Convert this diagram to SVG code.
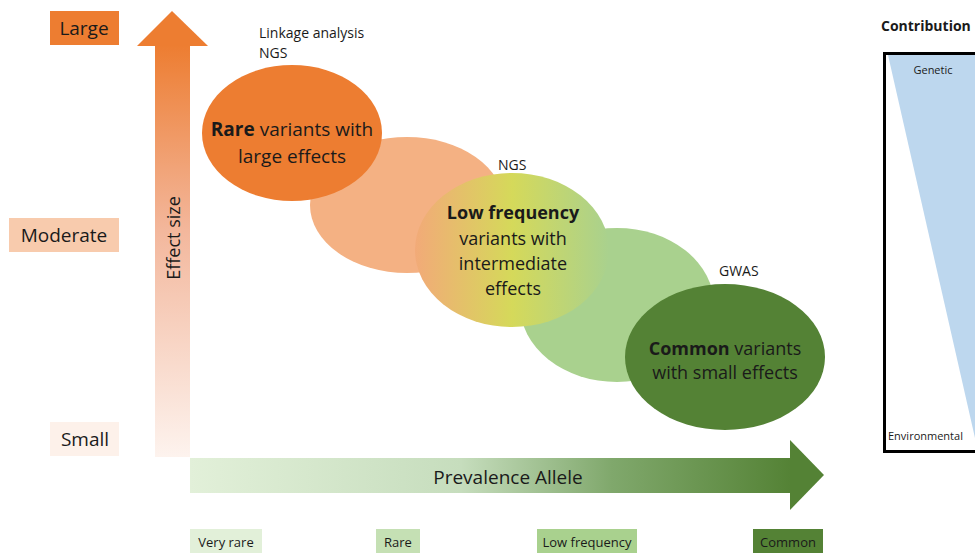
<svg xmlns="http://www.w3.org/2000/svg" width="975" height="553" viewBox="0 0 975 553">
<defs>
<style>
text{font-family:"Open Sans","Liberation Sans",sans-serif;fill:#1a1a1a}
.lbl{font-size:18px;text-anchor:middle}
.sm{font-size:13px;text-anchor:middle}
.tech{font-size:14px}
.b{font-weight:bold}
</style>
<linearGradient id="vgrad" x1="0" y1="0" x2="0" y2="1">
<stop offset="0" stop-color="#ED7D31"/>
<stop offset="0.45" stop-color="#F3B79C"/>
<stop offset="1" stop-color="#FDF3EE"/>
</linearGradient>
<linearGradient id="hgrad" x1="0" y1="0" x2="1" y2="0">
<stop offset="0" stop-color="#E2F0D9"/>
<stop offset="0.45" stop-color="#C6DDBD"/>
<stop offset="0.7" stop-color="#80A86C"/>
<stop offset="1" stop-color="#548235"/>
</linearGradient>
<linearGradient id="lfgrad" x1="0" y1="0" x2="1" y2="0">
<stop offset="0" stop-color="#F2AA78"/>
<stop offset="0.5" stop-color="#D5D95A"/>
<stop offset="1" stop-color="#A9D18E"/>
</linearGradient>
</defs>

<g id="effect-levels">
<rect x="50" y="11" width="69" height="34" fill="#ED7D31"/>
<text class="lbl" x="84" y="35" style="font-size:19px">Large</text>
<rect x="9" y="218" width="110" height="34" fill="#F8CBAD"/>
<text class="lbl" x="64" y="242" style="font-size:19px">Moderate</text>
<rect x="50" y="422" width="69" height="34" fill="#FDF1EA"/>
<text class="lbl" x="85" y="446" style="font-size:19px">Small</text>
</g>

<g id="effect-arrow">
<rect x="155" y="45" width="35" height="412" fill="url(#vgrad)"/>
<polygon points="172,11 208,46 137,46" fill="#ED7D31"/>
<text class="lbl" transform="translate(180,238) rotate(-90)">Effect size</text>
</g>

<g id="prevalence-arrow">
<rect x="190" y="458" width="602" height="35" fill="url(#hgrad)"/>
<polygon points="790,440 824,475 790,510" fill="#548235"/>
<text class="lbl" x="508" y="484" style="font-size:19px">Prevalence Allele</text>
</g>

<g id="frequency-levels">
<rect x="190" y="529" width="72" height="24" fill="#E2F0D9"/>
<text class="sm" x="226" y="547">Very rare</text>
<rect x="376" y="529" width="44" height="24" fill="#C5E0B4"/>
<text class="sm" x="398" y="547">Rare</text>
<rect x="537" y="529" width="100" height="24" fill="#A9D18E"/>
<text class="sm" x="587" y="547">Low frequency</text>
<rect x="753" y="529" width="70" height="24" fill="#548235"/>
<text class="sm" x="788" y="547">Common</text>
</g>

<g id="bg-ellipses">
<ellipse cx="617" cy="305" rx="97" ry="77" fill="#A9D18E"/>
<ellipse cx="407" cy="205" rx="97" ry="68" fill="#F4B183"/>
</g>

<g id="rare">
<ellipse cx="292" cy="133" rx="90" ry="68" fill="#ED7D31"/>
<text class="lbl" x="292" y="136" style="font-size:19px"><tspan class="b">Rare</tspan> variants with</text>
<text class="lbl" x="292" y="163" style="font-size:19px">large effects</text>
<text class="tech" x="259" y="38">Linkage analysis</text>
<text class="tech" x="259" y="58">NGS</text>
</g>

<g id="low-frequency">
<ellipse cx="512" cy="250" rx="97" ry="77" fill="url(#lfgrad)"/>
<text class="lbl b" x="513" y="219">Low frequency</text>
<text class="lbl" x="513" y="245">variants with</text>
<text class="lbl" x="513" y="270">intermediate</text>
<text class="lbl" x="513" y="295">effects</text>
<text class="tech" x="498" y="170">NGS</text>
</g>

<g id="common">
<ellipse cx="725" cy="357" rx="100" ry="73" fill="#548235"/>
<text class="lbl" x="725" y="355"><tspan class="b">Common</tspan> variants</text>
<text class="lbl" x="725" y="379">with small effects</text>
<text class="tech" x="719" y="276">GWAS</text>
</g>

<g id="contribution">
<text class="b" x="881" y="31" style="font-size:14px">Contribution</text>
<polygon points="888,55 980,55 980,460" fill="#BDD7EE"/>
<rect x="884.5" y="53.5" width="100" height="398" fill="none" stroke="#000" stroke-width="3"/>
<text x="933" y="74" style="font-size:11px;text-anchor:middle">Genetic</text>
<text x="888" y="440" style="font-size:11px">Environmental</text>
</g>
</svg>
